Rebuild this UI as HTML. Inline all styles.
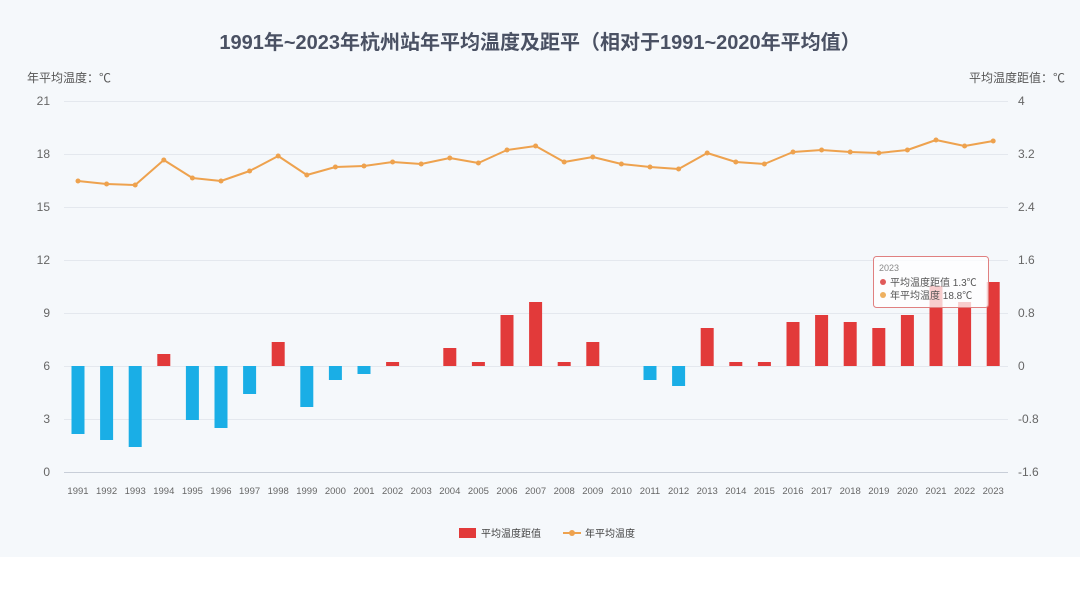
<!DOCTYPE html>
<html><head><meta charset="utf-8"><style>
body{margin:0;width:1080px;height:600px;background:#fff;overflow:hidden}
svg{display:block}
text{font-family:"Liberation Sans","Noto Sans CJK SC",sans-serif}
</style></head><body>
<svg width="1080" height="600" xmlns="http://www.w3.org/2000/svg">
<rect x="0" y="0" width="1080" height="557" fill="#f5f8fb"/>
<text x="540" y="49" text-anchor="middle" font-size="20" font-weight="bold" fill="#4a5163">1991年~2023年杭州站年平均温度及距平（相对于1991~2020年平均值）</text>
<text x="27" y="82" font-size="12" fill="#555">年平均温度：℃</text>
<text x="1065" y="82" font-size="12" fill="#555" text-anchor="end">平均温度距值：℃</text>
<g stroke="#e4e8ee" stroke-width="1">
<line x1="64" x2="1008" y1="101.5" y2="101.5"/><line x1="64" x2="1008" y1="154.5" y2="154.5"/>
<line x1="64" x2="1008" y1="207.5" y2="207.5"/><line x1="64" x2="1008" y1="260.5" y2="260.5"/>
<line x1="64" x2="1008" y1="313.5" y2="313.5"/><line x1="64" x2="1008" y1="366.5" y2="366.5"/>
<line x1="64" x2="1008" y1="419.5" y2="419.5"/>
</g>
<line x1="64" x2="1008" y1="472.5" y2="472.5" stroke="#c8ced8"/>
<g font-size="12" fill="#666" text-anchor="end">
<text x="50" y="105">21</text><text x="50" y="158">18</text><text x="50" y="211">15</text><text x="50" y="264">12</text><text x="50" y="317">9</text><text x="50" y="370">6</text><text x="50" y="423">3</text><text x="50" y="476">0</text>
</g>
<g font-size="12" fill="#666">
<text x="1018" y="105">4</text><text x="1018" y="158">3.2</text><text x="1018" y="211">2.4</text><text x="1018" y="264">1.6</text><text x="1018" y="317">0.8</text><text x="1018" y="370">0</text><text x="1018" y="423">-0.8</text><text x="1018" y="476">-1.6</text>
</g>
<g fill="#1aaee6">
<rect x="71.5" y="366" width="13" height="68"/><rect x="100.1" y="366" width="13" height="74"/><rect x="128.7" y="366" width="13" height="81"/>
<rect x="185.9" y="366" width="13" height="54"/><rect x="214.5" y="366" width="13" height="62"/><rect x="243.1" y="366" width="13" height="28"/>
<rect x="300.3" y="366" width="13" height="41"/><rect x="328.9" y="366" width="13" height="14"/><rect x="357.5" y="366" width="13" height="8"/>
<rect x="643.5" y="366" width="13" height="14"/><rect x="672.1" y="366" width="13" height="20"/>
</g>
<g fill="#e23a3a">
<rect x="157.3" y="354" width="13" height="12"/><rect x="271.7" y="342" width="13" height="24"/><rect x="386.1" y="362" width="13" height="4"/>
<rect x="443.3" y="348" width="13" height="18"/><rect x="471.9" y="362" width="13" height="4"/><rect x="500.5" y="315" width="13" height="51"/>
<rect x="529.1" y="302" width="13" height="64"/><rect x="557.7" y="362" width="13" height="4"/><rect x="586.3" y="342" width="13" height="24"/>
<rect x="700.7" y="328" width="13" height="38"/><rect x="729.3" y="362" width="13" height="4"/><rect x="757.9" y="362" width="13" height="4"/>
<rect x="786.5" y="322" width="13" height="44"/><rect x="815.1" y="315" width="13" height="51"/><rect x="843.7" y="322" width="13" height="44"/>
<rect x="872.3" y="328" width="13" height="38"/><rect x="900.9" y="315" width="13" height="51"/><rect x="929.5" y="286" width="13" height="80"/>
<rect x="958.1" y="302" width="13" height="64"/><rect x="986.7" y="282" width="13" height="84"/>
</g>
<polyline fill="none" stroke="#eea24e" stroke-width="2" stroke-linejoin="round" points="78,181 106.6,184 135.2,185 163.8,160 192.4,178 221,181 249.6,171 278.2,156 306.8,175 335.4,167 364,166 392.6,162 421.2,164 449.8,158 478.4,163 507,150 535.6,146 564.2,162 592.8,157 621.4,164 650,167 678.6,169 707.2,153 735.8,162 764.4,164 793,152 821.6,150 850.2,152 878.8,153 907.4,150 936,140 964.6,146 993.2,141"/>
<g fill="#eea24e">
<circle cx="78" cy="181" r="2.5"/><circle cx="106.6" cy="184" r="2.5"/><circle cx="135.2" cy="185" r="2.5"/><circle cx="163.8" cy="160" r="2.5"/><circle cx="192.4" cy="178" r="2.5"/><circle cx="221" cy="181" r="2.5"/><circle cx="249.6" cy="171" r="2.5"/><circle cx="278.2" cy="156" r="2.5"/><circle cx="306.8" cy="175" r="2.5"/><circle cx="335.4" cy="167" r="2.5"/><circle cx="364" cy="166" r="2.5"/><circle cx="392.6" cy="162" r="2.5"/><circle cx="421.2" cy="164" r="2.5"/><circle cx="449.8" cy="158" r="2.5"/><circle cx="478.4" cy="163" r="2.5"/><circle cx="507" cy="150" r="2.5"/><circle cx="535.6" cy="146" r="2.5"/><circle cx="564.2" cy="162" r="2.5"/><circle cx="592.8" cy="157" r="2.5"/><circle cx="621.4" cy="164" r="2.5"/><circle cx="650" cy="167" r="2.5"/><circle cx="678.6" cy="169" r="2.5"/><circle cx="707.2" cy="153" r="2.5"/><circle cx="735.8" cy="162" r="2.5"/><circle cx="764.4" cy="164" r="2.5"/><circle cx="793" cy="152" r="2.5"/><circle cx="821.6" cy="150" r="2.5"/><circle cx="850.2" cy="152" r="2.5"/><circle cx="878.8" cy="153" r="2.5"/><circle cx="907.4" cy="150" r="2.5"/><circle cx="936" cy="140" r="2.5"/><circle cx="964.6" cy="146" r="2.5"/><circle cx="993.2" cy="141" r="2.5"/>
</g>
<g font-size="9.5" fill="#666" text-anchor="middle">
<text x="78" y="494">1991</text><text x="106.6" y="494">1992</text><text x="135.2" y="494">1993</text><text x="163.8" y="494">1994</text><text x="192.4" y="494">1995</text><text x="221" y="494">1996</text><text x="249.6" y="494">1997</text><text x="278.2" y="494">1998</text><text x="306.8" y="494">1999</text><text x="335.4" y="494">2000</text><text x="364" y="494">2001</text><text x="392.6" y="494">2002</text><text x="421.2" y="494">2003</text><text x="449.8" y="494">2004</text><text x="478.4" y="494">2005</text><text x="507" y="494">2006</text><text x="535.6" y="494">2007</text><text x="564.2" y="494">2008</text><text x="592.8" y="494">2009</text><text x="621.4" y="494">2010</text><text x="650" y="494">2011</text><text x="678.6" y="494">2012</text><text x="707.2" y="494">2013</text><text x="735.8" y="494">2014</text><text x="764.4" y="494">2015</text><text x="793" y="494">2016</text><text x="821.6" y="494">2017</text><text x="850.2" y="494">2018</text><text x="878.8" y="494">2019</text><text x="907.4" y="494">2020</text><text x="936" y="494">2021</text><text x="964.6" y="494">2022</text><text x="993.2" y="494">2023</text>
</g>
<rect x="873.5" y="256.5" width="115" height="51" rx="3" fill="#fff" fill-opacity="0.75" stroke="#e08080"/>
<text x="879" y="271" font-size="9" fill="#888">2023</text>
<circle cx="883" cy="282" r="3" fill="#e05a5a"/><text x="890" y="286" font-size="10" fill="#555">平均温度距值  1.3℃</text>
<circle cx="883" cy="295" r="3" fill="#eeb060"/><text x="890" y="299" font-size="10" fill="#555">年平均温度  18.8℃</text>
<rect x="459" y="528" width="17" height="10" fill="#e23a3a"/>
<text x="481" y="537" font-size="10" fill="#444">平均温度距值</text>
<line x1="563" x2="581" y1="533" y2="533" stroke="#eea24e" stroke-width="2"/><circle cx="572" cy="533" r="3" fill="#eea24e"/>
<text x="585" y="537" font-size="10" fill="#444">年平均温度</text>
</svg>
</body></html>
